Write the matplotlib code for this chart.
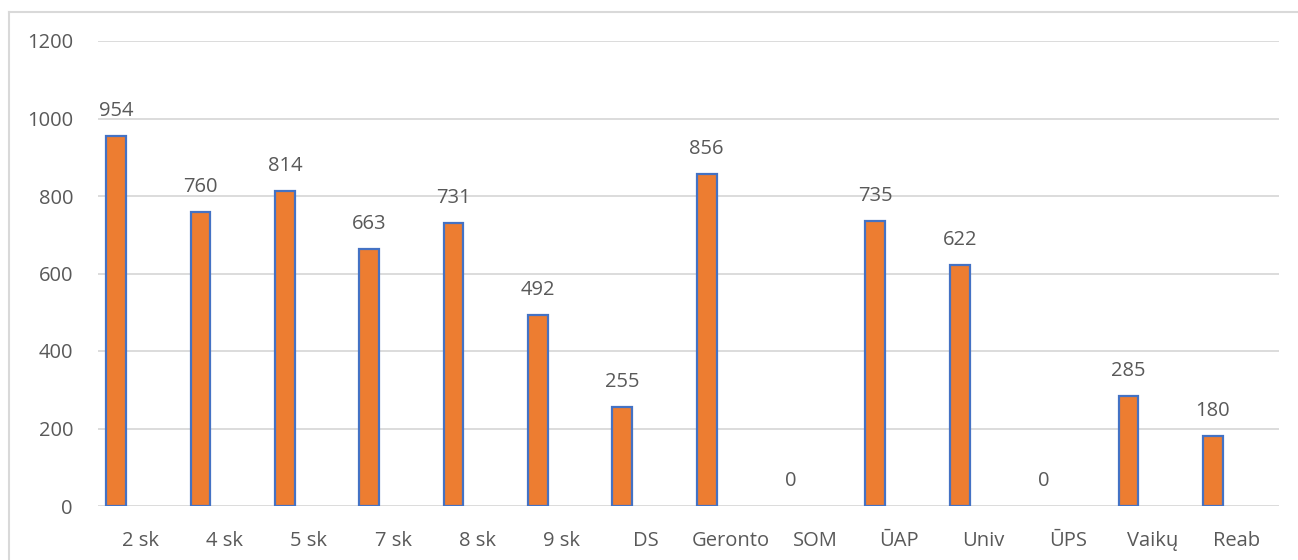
import matplotlib
matplotlib.use("Agg")
import matplotlib.pyplot as plt
from matplotlib.lines import Line2D
import numpy as np

categories = ["2 sk", "4 sk", "5 sk", "7 sk", "8 sk", "9 sk", "DS", "Geronto", "SOM",
              "ŪAP", "Univ", "ŪPS", "Vaikų", "Reab"]
values = [954, 760, 814, 663, 731, 492, 255, 856, 0, 735, 622, 0, 285, 180]
yticks = [0, 200, 400, 600, 800, 1000, 1200]

W, H = 1298, 560
fig = plt.figure(figsize=(W / 100, H / 100), dpi=100)
plt.rcParams['font.family'] = ['Open Sans', 'DejaVu Sans']
grey = "#595959"

ax = fig.add_axes([98 / W, 1 - 506 / H, (1279 - 98) / W, (506 - 41) / H])
x = np.arange(len(categories))
offset = -0.285
bw = 0.235
edges = ["#4472C4" if v > 0 else "none" for v in values]
ax.bar(x + offset, values, width=bw, color="#ED7D31", edgecolor=edges,
       linewidth=1.6, zorder=3)
for xi, v in zip(x, values):
    ax.annotate(str(v), (xi + offset, v), xytext=(0, 18), textcoords="offset points",
                ha="center", va="center", fontsize=14.5, color=grey)

ax.set_xlim(-0.5, len(categories) - 0.5)
ax.set_ylim(0, 1200)
ax.set_yticks(yticks)
ax.set_xticks(x)
ax.set_xticklabels(categories)
ax.tick_params(axis="both", length=0, labelsize=14.5, labelcolor=grey)
ax.tick_params(axis="x", pad=18)
ax.tick_params(axis="y", pad=18)
ax.grid(axis="y", color="#D9D9D9", linewidth=1.3, zorder=0)
for s in ax.spines.values():
    s.set_visible(False)

# outer chart border
fig.add_artist(Line2D([9 / W, 9 / W], [0, 1 - 12 / H], color="#D9D9D9", linewidth=1.5,
                      transform=fig.transFigure))
fig.add_artist(Line2D([9 / W, 1], [1 - 12 / H, 1 - 12 / H], color="#D9D9D9", linewidth=1.5,
                      transform=fig.transFigure))

fig.savefig("out.png", dpi=100)
